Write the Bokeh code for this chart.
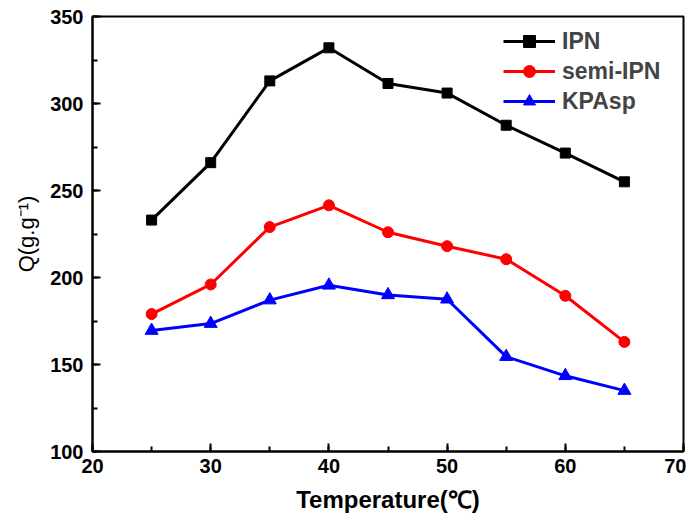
from bokeh.plotting import figure
from bokeh.models import Range1d, SingleIntervalTicker, Legend, LegendItem
from bokeh.embed import file_html
from bokeh.resources import INLINE

temperature = [25, 30, 35, 40, 45, 50, 55, 60, 65]
ipn = [233, 266, 313, 332, 311.5, 306, 287.5, 271.5, 255]
semi_ipn = [179, 196, 229, 241.5, 226, 218, 210.5, 189.5, 163]
kpasp = [169.5, 173.5, 187, 195.5, 190, 187.5, 154.5, 143.5, 135]

FONT = "Liberation Sans"

p = figure(width=686, height=515, output_backend="svg", toolbar_location=None,
           x_range=Range1d(20, 70), y_range=Range1d(100, 350),
           min_border_left=92, min_border_right=3, min_border_top=16, min_border_bottom=63)
p.grid.visible = False
p.outline_line_color = "black"
p.outline_line_width = 2
p.background_fill_color = "white"
p.border_fill_color = "white"

for ax in (p.xaxis[0], p.yaxis[0]):
    ax.axis_line_width = 2
    ax.major_tick_in = 8
    ax.major_tick_out = 0
    ax.minor_tick_in = 5
    ax.minor_tick_out = 0
    ax.major_tick_line_width = 2
    ax.minor_tick_line_width = 2
    ax.major_label_text_font = FONT
    ax.major_label_text_font_style = "bold"
    ax.major_label_text_font_size = "20px"
    ax.major_label_text_color = "black"
    ax.axis_label_text_font = FONT
    ax.axis_label_text_color = "black"

p.xaxis.ticker = SingleIntervalTicker(interval=10, num_minor_ticks=2)
p.yaxis.ticker = SingleIntervalTicker(interval=50, num_minor_ticks=2)
p.xaxis.major_label_standoff = 7
p.yaxis.major_label_standoff = 9
p.xaxis.axis_label = "Temperature(℃)"
p.xaxis.axis_label_text_font_size = "24px"
p.xaxis.axis_label_text_font_style = "bold"
p.xaxis.axis_label_standoff = 10
p.yaxis.axis_label = "Q(g.g⁻¹)"
p.yaxis.axis_label_text_font_size = "22px"
p.yaxis.axis_label_text_font_style = "normal"
p.yaxis.axis_label_standoff = 8

series = [
    ("IPN", ipn, "black", "square", 10),
    ("semi-IPN", semi_ipn, "red", "circle", 11),
    ("KPAsp", kpasp, "blue", "triangle", 13),
]
items = []
for label, vals, color, marker, size in series:
    l = p.line(temperature, vals, line_color=color, line_width=3)
    s = p.scatter(temperature, vals, marker=marker, size=size, fill_color=color, line_color=color)
    items.append(LegendItem(label=label, renderers=[l, s]))

legend = Legend(items=items, location=(411, 335))
legend.border_line_color = None
legend.background_fill_alpha = 0
legend.label_text_font = FONT
legend.label_text_font_style = "bold"
legend.label_text_font_size = "23px"
legend.glyph_width = 52
legend.glyph_height = 30
legend.label_height = 30
legend.spacing = 0
legend.padding = 0
legend.margin = 0
legend.label_standoff = 7
p.add_layout(legend)

open("out.html", "w").write(file_html(p, INLINE))
